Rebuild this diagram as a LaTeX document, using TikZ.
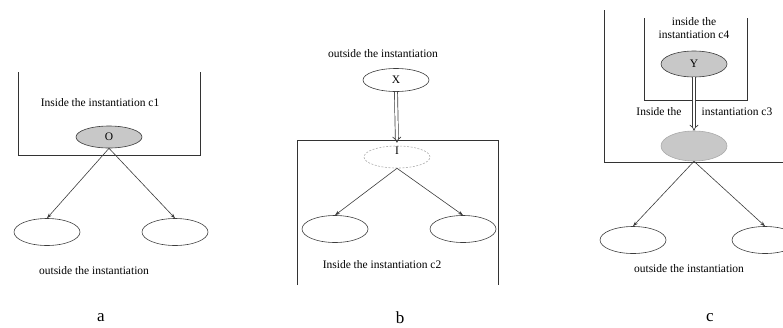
\documentclass[tikz,border=0pt]{standalone}
\usepackage{fontspec}
\setmainfont{Liberation Serif}
\usetikzlibrary{shapes.geometric,arrows.meta}
\definecolor{nodegray}{RGB}{200,200,200}
\definecolor{linegray}{RGB}{60,60,60}
\definecolor{dashgray}{RGB}{175,175,175}
\tikzset{
  ell/.style={ellipse,draw=linegray,line width=0.6pt,minimum width=66pt,minimum height=27pt,inner sep=0pt,font=\fontsize{11.5}{13}\selectfont},
  smallell/.style={ell,minimum height=23pt},
  grayell/.style={ell,fill=nodegray,minimum height=22pt},
  lbl/.style={font=\fontsize{11.5}{13}\selectfont,inner sep=0pt},
  panel/.style={font=\fontsize{17}{19}\selectfont,inner sep=0pt},
  arr/.style={draw=linegray,line width=0.6pt,-{Stealth[length=5pt,width=3.5pt]}},
  dbl/.style={draw=linegray,double=white,double distance=2.4pt,line width=0.7pt,-{Implies}},
  boxline/.style={draw=black!80,line width=0.7pt}
}
\begin{document}
\begin{tikzpicture}[x=1pt,y=-1pt]
\useasboundingbox (0,0) rectangle (783,327);
% ---------- panel a ----------
\coordinate (a1) at (18,72);
\coordinate (a2) at (18,155);
\coordinate (a3) at (200,155);
\coordinate (a4) at (200,72);
\draw[boxline] (a1) -- (a2) -- (a3) -- (a4);
\node[lbl] (atxt) at (100,103) {Inside the instantiation c1};
\node[grayell] (O) at (109,137) {O};
\node[ell] (aL) at (47,232) {};
\node[ell] (aR) at (175,232) {};
\draw[arr] (O.south) -- (aL.north);
\draw[arr] (O.south) -- (aR.north);
\node[lbl] (aout) at (94,271) {outside the instantiation};
\node[panel] (pa) at (101,318) {a};
% ---------- panel b ----------
\node[lbl] (bout) at (383,54) {outside the instantiation};
\node[smallell] (X) at (396,80) {X};
\coordinate (b1) at (297,285);
\coordinate (b2) at (297,140);
\coordinate (b3) at (498,140);
\coordinate (b4) at (498,285);
\draw[boxline] (b1) -- (b2) -- (b3) -- (b4);
\node[ell,draw=dashgray,dash pattern=on 2pt off 1.5pt,minimum height=22pt] (I) at (397,157) {};
\draw[dbl,shorten >=3pt] (X.south) -- (I.north);
\node[lbl] (Itxt) at (397,151) {I};
\node[ell] (bL) at (335,229) {};
\node[ell] (bR) at (463,229) {};
\draw[arr] (I.south) -- (bL.north);
\draw[arr] (I.south) -- (bR.north);
\node[lbl] (btxt) at (382,265) {Inside the instantiation c2};
\node[panel] (pb) at (400,318) {b};
% ---------- panel c ----------
\coordinate (c1) at (604,10);
\coordinate (c2) at (604,162);
\coordinate (c3) at (783,162);
\draw[boxline] (c1) -- (c2) -- (c3);
\coordinate (d1) at (644,18);
\coordinate (d2) at (644,100);
\coordinate (d3) at (747,100);
\coordinate (d4) at (747,18);
\draw[boxline] (d1) -- (d2) -- (d3) -- (d4);
\node[lbl,align=center] (ctxt4) at (694,28) {inside the\\instantiation c4};
\node[grayell,minimum height=26pt] (Y) at (694,64) {Y};
\node[ell,fill=nodegray,draw=nodegray!85!black,minimum height=30pt] (G) at (694,146) {};
\draw[dbl] (Y.south) -- (G.north);
\node[lbl] (c3a) at (659,112) {Inside the};
\node[lbl] (c3b) at (737,112) {instantiation c3};
\node[ell] (cL) at (633,240) {};
\node[ell] (cR) at (765,240) {};
\draw[arr] (G.south) -- (cL.north);
\draw[arr] (G.south) -- (cR.north);
\node[lbl] (cout) at (689,269) {outside the instantiation};
\node[panel] (pc) at (710,318) {c};
\end{tikzpicture}
\end{document}
